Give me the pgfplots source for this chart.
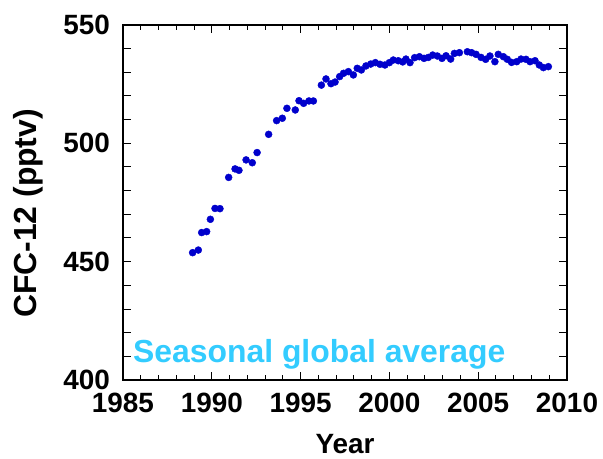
\documentclass[border=0pt]{standalone}
\usepackage{pgfplots}
\pgfplotsset{compat=1.18}
\usepackage{fontspec}
\setmainfont{Liberation Sans}
\definecolor{dotblue}{RGB}{0,0,204}
\definecolor{annblue}{RGB}{51,204,255}
\begin{document}
\begin{tikzpicture}
\begin{axis}[
  name=ax,
  scale only axis,
  width=444bp, height=355bp,
  xmin=1985, xmax=2010, ymin=400, ymax=550,
  xtick={1985,1990,...,2010},
  ytick={400,410,...,550},
  yticklabels={400,,,,,450,,,,,500,,,,,550},
  minor x tick num=4,
  tick align=inside,
  tick pos=both,
  major tick length=8bp,
  minor tick length=5bp,
  axis line style={line width=1.2bp},
  tick style={line width=1bp, black},
  /pgf/number format/assume math mode=true,
  /pgf/number format/1000 sep={},
  ticklabel style={font=\fontsize{28}{32}\selectfont\bfseries, inner sep=0pt},
  xticklabel style={anchor=north, yshift=-13bp},
  yticklabel style={anchor=east, xshift=-13bp},
  xlabel={Year},
  ylabel={CFC-12 (pptv)},
  xlabel style={font=\fontsize{28}{32}\selectfont\bfseries, at={(axis description cs:0.5,-0.179)}, anchor=center, inner sep=0pt},
  ylabel style={font=\fontsize{32}{36}\selectfont\bfseries, at={(axis description cs:-0.214,0.469)}, anchor=center, rotate=0, inner sep=0pt},
]
\addplot[only marks, mark=*, mark size=3.5bp, color=dotblue, mark options={draw=dotblue, fill=dotblue}] coordinates {
(1988.92,453.8) (1989.24,454.9) (1989.43,462.3) (1989.71,462.7) (1989.92,467.9)
(1990.18,472.5) (1990.46,472.4) (1990.95,485.6) (1991.31,489.2) (1991.53,488.6)
(1991.93,493.0) (1992.28,491.8) (1992.55,496.1) (1993.20,503.8) (1993.65,509.6)
(1993.97,510.6) (1994.23,514.8) (1994.70,514.1) (1994.91,518.0) (1995.17,516.9)
(1995.47,517.9) (1995.72,517.9) (1996.17,524.6) (1996.43,527.2) (1996.71,525.2)
(1996.94,525.9) (1997.20,528.2) (1997.42,529.6) (1997.69,530.3) (1997.97,528.9)
(1998.19,531.7) (1998.42,531.0) (1998.68,532.7) (1998.95,533.5) (1999.21,534.1)
(1999.47,533.4) (1999.75,533.1) (2000.00,534.1) (2000.22,535.2) (2000.50,534.9)
(2000.75,534.4) (2000.93,535.6) (2001.16,534.1) (2001.42,536.2) (2001.69,536.6)
(2001.95,535.9) (2002.19,536.3) (2002.44,537.3) (2002.70,536.9) (2002.96,535.9)
(2003.19,537.0) (2003.45,535.6) (2003.66,538.0) (2003.94,538.3) (2004.39,538.7)
(2004.63,538.3) (2004.88,537.6) (2005.16,536.3) (2005.42,535.5) (2005.66,536.9)
(2005.94,534.5) (2006.13,537.6) (2006.42,536.6) (2006.64,535.5) (2006.88,534.2)
(2007.17,534.5) (2007.41,535.6) (2007.69,535.5) (2007.92,534.5) (2008.20,534.9)
(2008.44,533.1) (2008.67,532.0) (2008.95,532.4)
};
\node[anchor=base west, inner sep=0pt, text=annblue, font=\fontsize{32}{36}\selectfont\bfseries] at (rel axis cs:0.0225,0.048) {Seasonal global average};
\end{axis}
\path ([shift={(-123bp,-79bp)}]ax.south west) rectangle ([shift={(36bp,25bp)}]ax.north east);
\end{tikzpicture}
\end{document}
